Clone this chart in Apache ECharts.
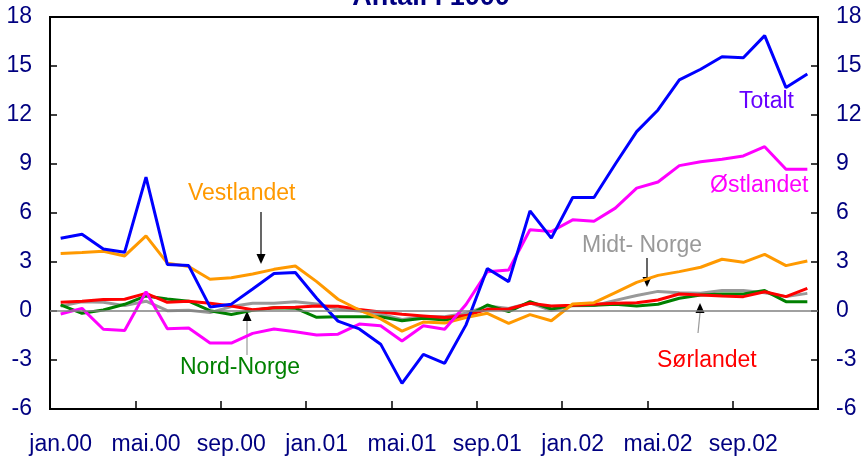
<!DOCTYPE html>
<html lang="no">
  <head>
    <meta charset="UTF-8" />
    <title>Antall i 1000</title>
    <script src="https://cdn.jsdelivr.net/npm/echarts@6.0.0/dist/echarts.min.js"></script>
    <style>
      html, body { margin: 0; padding: 0; background: #fff; }
      #box { width: 865px; height: 458px; }
    </style>
  </head>
  <body>
    <div id="box"></div>
    <script>
      // månedene jan.00 - des.02
      var mnd = ["jan", "feb", "mar", "apr", "mai", "jun", "jul", "aug", "sep", "okt", "nov", "des"];
      var aar = ["00", "01", "02"];
      var maaneder = [];
      aar.forEach(function (a) {
        mnd.forEach(function (m) {
          maaneder.push(m + "." + a);
        });
      });

      var totalt = [4.45, 4.7, 3.8, 3.6, 8.2, 2.85, 2.78, 0.25, 0.42, 1.35, 2.3, 2.36,
        0.78, -0.62, -1.1, -2.03, -4.43, -2.66, -3.2, -0.85, 2.6, 1.8, 6.13, 4.46,
        6.95, 6.95, 9.0, 10.98, 12.31, 14.15, 14.8, 15.57, 15.51, 16.86, 13.68, 14.51];
      var ostlandet = [-0.18, 0.16, -1.12, -1.19, 1.18, -1.08, -1.04, -1.96, -1.96, -1.37, -1.1, -1.27,
        -1.47, -1.42, -0.8, -0.9, -1.84, -0.9, -1.12, 0.4, 2.41, 2.51, 4.97, 4.87,
        5.58, 5.5, 6.3, 7.52, 7.9, 8.9, 9.14, 9.29, 9.49, 10.06, 8.68, 8.68];
      var vestlandet = [3.52, 3.58, 3.66, 3.37, 4.6, 2.93, 2.72, 1.94, 2.03, 2.27, 2.55, 2.76,
        1.8, 0.72, 0.06, -0.48, -1.23, -0.68, -0.74, -0.4, -0.14, -0.76, -0.22, -0.6,
        0.43, 0.51, 1.13, 1.75, 2.18, 2.41, 2.68, 3.17, 2.98, 3.47, 2.78, 3.06];
      var midtNorge = [0.3, 0.57, 0.53, 0.33, 0.6, 0.02, 0.04, -0.1, 0.27, 0.47, 0.47, 0.57,
        0.43, 0.1, 0, -0.2, -0.52, -0.35, -0.35, -0.14, 0.3, 0.15, 0.5, 0.03,
        0.32, 0.33, 0.65, 0.95, 1.2, 1.12, 1.08, 1.25, 1.25, 1.12, 0.88, 1.08];
      var nordNorge = [0.37, -0.14, 0.06, 0.41, 0.92, 0.74, 0.6, 0.02, -0.22, 0.04, 0.2, 0.17,
        -0.39, -0.35, -0.35, -0.35, -0.6, -0.45, -0.55, -0.35, 0.37, -0.04, 0.57, 0.12,
        0.35, 0.35, 0.41, 0.31, 0.41, 0.78, 0.98, 1.04, 1.04, 1.25, 0.57, 0.57];
      var sorlandet = [0.53, 0.6, 0.7, 0.72, 1.08, 0.53, 0.6, 0.47, 0.3, 0.08, 0.2, 0.23,
        0.3, 0.29, 0.1, -0.06, -0.2, -0.3, -0.4, -0.28, 0.1, 0.12, 0.47, 0.31,
        0.35, 0.41, 0.47, 0.5, 0.67, 1.04, 0.98, 0.92, 0.88, 1.18, 0.88, 1.39];

      var yMin = -6, yMax = 18, yStep = 3;

      var font = "'Liberation Sans', Arial, sans-serif";
      var navy = "#000080";

      function linje(navn, data, farge) {
        return {
          name: navn,
          type: "line",
          data: data,
          symbol: "none",
          lineStyle: { color: farge, width: 3 },
          itemStyle: { color: farge },
          animation: false,
        };
      }

      // pil: strek + trekantet spiss
      function pil(x, y1, y2, strekFarge, x2) {
        if (x2 === undefined) x2 = x;
        var ned = y2 > y1;
        var base = ned ? y2 - 10 : y2 + 10;
        return [
          {
            type: "line",
            shape: { x1: x, y1: y1, x2: x2, y2: base },
            style: { stroke: strekFarge, lineWidth: 1.2 },
          },
          {
            type: "polygon",
            shape: { points: [[x2, y2], [x2 - 4.5, base], [x2 + 4.5, base]] },
            style: { fill: "#000" },
          },
        ];
      }

      function tekst(t, x, y, farge) {
        return {
          type: "text",
          x: x,
          y: y,
          style: {
            text: t,
            fill: farge,
            font: "23px " + font,
            textAlign: "left",
            textVerticalAlign: "middle",
          },
        };
      }

      var myChart = echarts.init(document.getElementById("box"));

      var serier = [
        linje("Midt- Norge", midtNorge, "#999999"),
        linje("Nord-Norge", nordNorge, "#008000"),
        linje("Sørlandet", sorlandet, "#ff0000"),
        linje("Vestlandet", vestlandet, "#ff9900"),
        linje("Østlandet", ostlandet, "#ff00ff"),
        linje("Totalt", totalt, "#0000ff"),
      ];
      // nullinje
      serier[0].markLine = {
        silent: true,
        symbol: "none",
        label: { show: false },
        lineStyle: { color: "#808080", width: 1.5, type: "solid" },
        data: [{ yAxis: 0 }],
        animation: false,
      };

      var yAkse = function (pos) {
        return {
          type: "value",
          position: pos,
          min: yMin,
          max: yMax,
          interval: yStep,
          axisLine: { show: true, lineStyle: { color: "#000", width: 2 } },
          axisTick: { show: true, inside: true, length: 7, lineStyle: { color: "#000", width: 1.5 } },
          splitLine: { show: false },
          axisLabel: { color: navy, fontSize: 23, fontFamily: font, margin: 18 },
        };
      };

      var grafikk = [
        {
          type: "text",
          x: 431,
          y: 11,
          style: {
            text: "Antall i 1000",
            fill: navy,
            font: "bold 27px " + font,
            textAlign: "center",
            textVerticalAlign: "bottom",
          },
        },
        tekst("Totalt", 739, 102, "#6600ff"),
        tekst("Østlandet", 710, 186, "#ff00ff"),
        tekst("Vestlandet", 188, 194, "#ff9900"),
        tekst("Midt- Norge", 582, 246, "#999999"),
        tekst("Sørlandet", 657, 361, "#ff0000"),
        tekst("Nord-Norge", 180, 368, "#008000"),
      ]
        .concat(pil(261, 212, 264, "#000"))
        .concat(pil(247, 355, 311, "#999999"))
        .concat(pil(647, 258, 287, "#000"))
        .concat(pil(698, 333, 303, "#999999", 700));

      var option = {
        animation: false,
        grid: {
          left: 50,
          right: 47,
          top: 17,
          bottom: 49,
          show: true,
          borderColor: "#000",
          borderWidth: 2,
          backgroundColor: "#fff",
        },
        xAxis: {
          type: "category",
          data: maaneder,
          boundaryGap: true,
          axisLine: { show: true, onZero: false, lineStyle: { color: "#000", width: 2 } },
          axisTick: { show: true, inside: true, length: 8, interval: 3, alignWithLabel: false, lineStyle: { color: "#000", width: 1.5 } },
          axisLabel: { interval: 3, color: navy, fontSize: 23, fontFamily: font, margin: 24 },
          splitLine: { show: false },
        },
        yAxis: [yAkse("left"), yAkse("right")],
        series: serier,
        graphic: grafikk,
      };

      myChart.setOption(option);
    </script>
  </body>
</html>
